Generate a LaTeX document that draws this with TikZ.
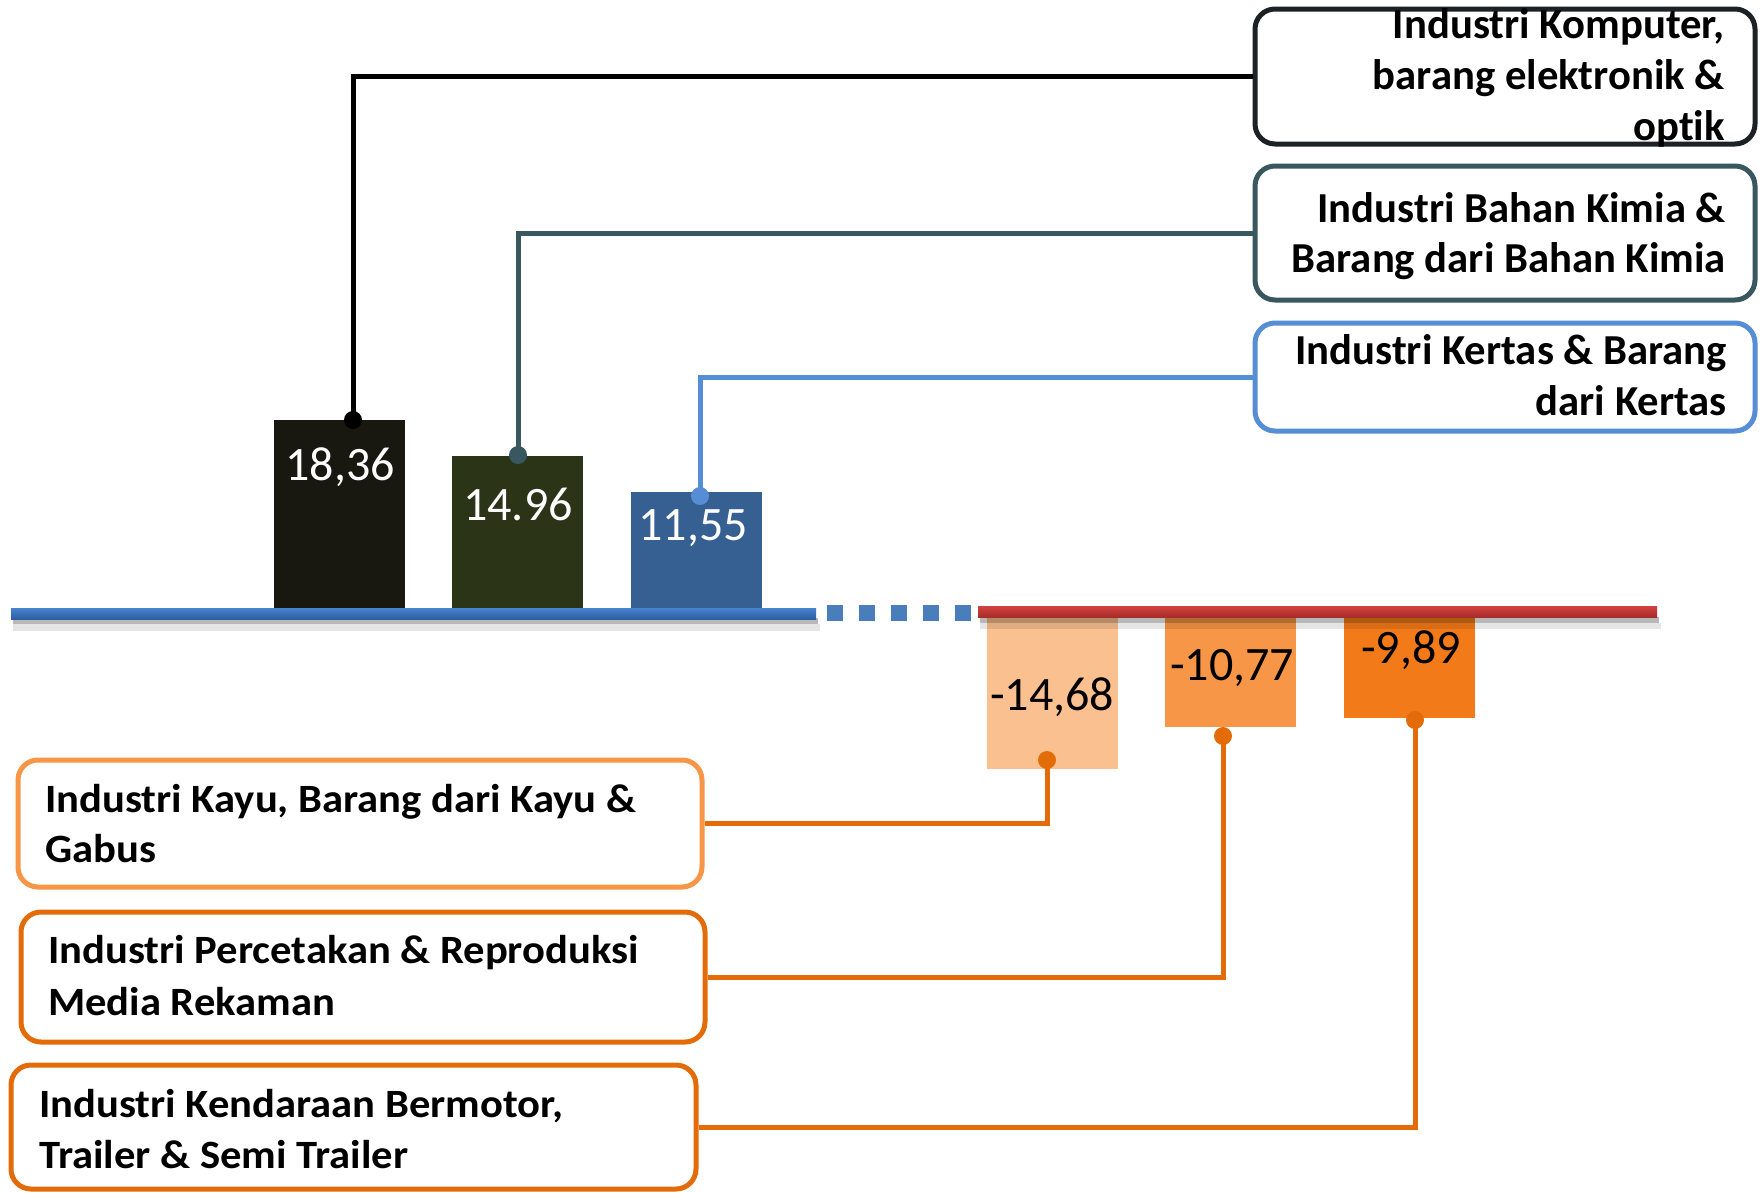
\documentclass[tikz,border=0pt]{standalone}
\usepackage{fontspec}
\setmainfont[Ligatures=NoCommon]{Carlito}
\newfontfamily\widefont[FakeStretch=1.06,Ligatures=NoCommon]{Carlito}
\definecolor{cBarOne}{RGB}{24,23,16}
\definecolor{cBarTwo}{RGB}{43,52,23}
\definecolor{cBarThree}{RGB}{54,96,146}
\definecolor{cBarA}{RGB}{250,192,144}
\definecolor{cBarB}{RGB}{247,150,70}
\definecolor{cBarC}{RGB}{242,122,24}
\definecolor{cBoxOne}{RGB}{28,33,37}
\definecolor{cBoxTwo}{RGB}{56,87,94}
\definecolor{cBoxThree}{RGB}{85,142,213}
\definecolor{cOrLight}{RGB}{247,150,70}
\definecolor{cOr}{RGB}{227,108,9}
\definecolor{cAxisBlueTop}{RGB}{70,132,208}
\definecolor{cAxisBlueBot}{RGB}{46,94,160}
\definecolor{cDash}{RGB}{74,126,187}
\definecolor{cAxisRedTop}{RGB}{210,66,62}
\definecolor{cAxisRedBot}{RGB}{168,44,40}
\begin{document}
\begin{tikzpicture}[x=1pt,y=-1pt,
  barbox/.style={rectangle, draw=none, inner sep=0pt, minimum width=131pt},
  vallbl/.style={inner sep=0pt, font=\fontsize{48}{50}\selectfont},
  lbl/.style={inner sep=0pt, font=\fontsize{42.7}{50}\selectfont\bfseries},
  lblb/.style={inner sep=0pt, font=\widefont\fontsize{40.2}{50}\selectfont\bfseries},
  boxframe/.style={rectangle, rounded corners=20pt, line width=5pt, fill=white, inner sep=0pt},
  conn/.style={line width=5pt},
  knob/.style={circle, inner sep=0pt, minimum size=18pt, draw=none},
]
\fill[white] (0,0) rectangle (1762,1192);
\useasboundingbox (0,0) rectangle (1762,1192);

% positive bars
\node[barbox, fill=cBarOne, minimum height=188pt] (b1) at (339.5,514) {};
\node[barbox, fill=cBarTwo, minimum height=152pt] (b2) at (517.5,532) {};
\node[barbox, fill=cBarThree, minimum height=116pt] (b3) at (696.5,550) {};
% negative bars
\node[barbox, fill=cBarA, minimum height=157pt] (bA) at (1052.5,690.5) {};
\node[barbox, fill=cBarB, minimum height=115pt] (bB) at (1230.5,669.5) {};
\node[barbox, fill=cBarC, minimum height=106pt] (bC) at (1409,665) {};

% axis shadows
\fill[black, opacity=0.28] (13,618) rectangle (818,624);
\fill[black, opacity=0.10] (13,624) rectangle (820,631);
\fill[black, opacity=0.28] (980,617) rectangle (1659,623);
\fill[black, opacity=0.10] (980,623) rectangle (1661,629);
% axes
\shade[top color=cAxisBlueTop, bottom color=cAxisBlueBot] (11,608) rectangle (816,619);
\foreach \i in {0,...,4}{
  \fill[cDash] ({827+32*\i},605) rectangle ({843+32*\i},621);
}
\shade[top color=cAxisRedTop, bottom color=cAxisRedBot] (978,606) rectangle (1657,617);

% value labels
\node[vallbl, text=white, anchor=base] (v1) at (340,480) {18,36};
\node[vallbl, text=white, anchor=base] (v2) at (518,520) {14.96};
\node[vallbl, text=white, anchor=base] (v3) at (693,540) {11,55};
\node[vallbl, text=black, anchor=base] (vA) at (1052,710) {-14,68};
\node[vallbl, text=black, anchor=base] (vB) at (1232,680) {-10,77};
\node[vallbl, text=black, anchor=base] (vC) at (1411,663) {-9,89};

% dot positions
\coordinate (d1) at (353,420);
\coordinate (d2) at (518,455);
\coordinate (d3) at (700,496);
\coordinate (dA) at (1047,760);
\coordinate (dB) at (1223,736);
\coordinate (dC) at (1415,720);

% boxes
\node[boxframe, draw=cBoxOne, minimum width=500pt, minimum height=135pt] (k1) at (1505,76.5) {};
\node[boxframe, draw=cBoxTwo, minimum width=500pt, minimum height=134pt] (k2) at (1505,233) {};
\node[boxframe, draw=cBoxThree, minimum width=500pt, minimum height=108pt] (k3) at (1505,377) {};
\node[boxframe, draw=cOrLight, minimum width=684pt, minimum height=127pt] (kA) at (360,823.5) {};
\node[boxframe, draw=cOr, minimum width=684pt, minimum height=130pt] (kB) at (363,977) {};
\node[boxframe, draw=cOr, minimum width=685pt, minimum height=124pt] (kC) at (353.5,1127) {};

% connectors
\draw[conn, black] (k1.west) -| (d1);
\draw[conn, cBoxTwo] (k2.west) -| (d2);
\draw[conn, cBoxThree] (k3.west) -| (d3);
\draw[conn, cOr] (kA.east) -| (dA);
\draw[conn, cOr] (kB.east) -| (dB);
\draw[conn, cOr] (kC.east) -| (dC);

% dots
\node[knob, fill=black] (p1) at (d1) {};
\node[knob, fill=cBoxTwo] (p2) at (d2) {};
\node[knob, fill=cBoxThree] (p3) at (d3) {};
\node[knob, fill=cOr] (pA) at (dA) {};
\node[knob, fill=cOr] (pB) at (dB) {};
\node[knob, fill=cOr] (pC) at (dC) {};

% box texts
\node[lbl, anchor=base east] (t1a) at (1725,38) {Industri Komputer,};
\node[lbl, anchor=base east] (t1b) at (1725,89) {barang elektronik \&};
\node[lbl, anchor=base east] (t1c) at (1725,140) {optik};
\node[lbl, anchor=base east] (t2a) at (1726,222) {Industri Bahan Kimia \&};
\node[lbl, anchor=base east] (t2b) at (1726,272) {Barang dari Bahan Kimia};
\node[lbl, anchor=base east] (t3a) at (1727,364) {Industri Kertas \& Barang};
\node[lbl, anchor=base east] (t3b) at (1727,415) {dari Kertas};
\node[lblb, anchor=base west] (tAa) at (45,812) {Industri Kayu, Barang dari Kayu \&};
\node[lblb, anchor=base west] (tAb) at (45,862) {Gabus};
\node[lblb, anchor=base west] (tBa) at (48,963) {Industri Percetakan \& Reproduksi};
\node[lblb, anchor=base west] (tBb) at (48,1015) {Media Rekaman};
\node[lblb, anchor=base west] (tCa) at (39,1117) {Industri Kendaraan Bermotor,};
\node[lblb, anchor=base west] (tCb) at (39,1168) {Trailer \& Semi Trailer};
\end{tikzpicture}
\end{document}
